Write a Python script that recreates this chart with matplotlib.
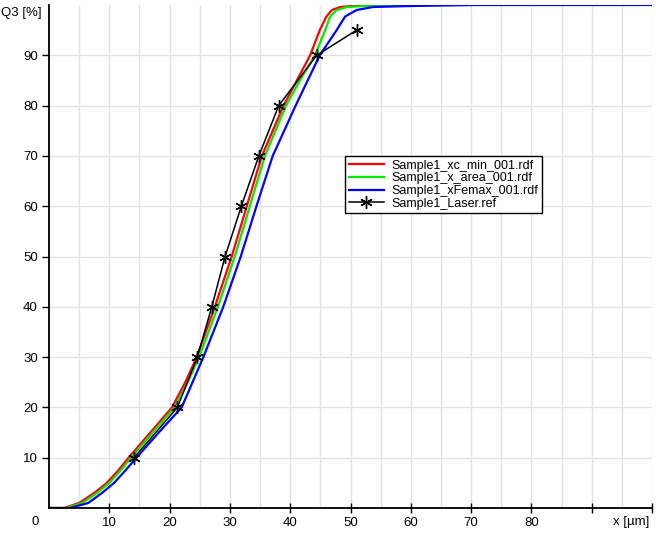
import matplotlib
matplotlib.use('Agg')
from matplotlib import pyplot as plt
from matplotlib.ticker import MultipleLocator

plt.rcParams['font.family'] = ['Liberation Sans', 'DejaVu Sans']

# cumulative distributions Q3 [%] vs x [um]
red_x = [0, 2.5, 5.0, 7.5, 9.6, 11.5, 13.2, 16.8, 20.4, 22.6, 24.5, 27.5, 30.3,
         32.8, 35.3, 38.9, 41.1, 43.3, 44.9, 46.0, 46.9, 48.3, 52.0, 59.4]
red_y = [0, 0, 1, 3, 5, 7.5, 10, 15, 20, 25, 30, 40, 50,
         60, 70, 80, 85, 90, 95, 97.7, 99, 99.6, 100, 100]

green_x = [0, 2.8, 5.5, 8.0, 10.0, 11.9, 13.6, 17.2, 20.8, 23.0, 24.9, 28.0, 30.8,
           33.3, 35.8, 39.3, 41.6, 44.1, 45.8, 46.6, 47.7, 49.4, 55.0, 70.0]
green_y = [0, 0, 1, 3, 5, 7.5, 10, 15, 20, 25, 30, 40, 50,
           60, 70, 80, 85, 90, 95, 97.7, 99, 99.6, 100, 100]

blue_x = [0, 3.5, 6.5, 8.8, 10.8, 12.7, 14.5, 18.2, 22.0, 23.8, 25.6, 28.9, 31.8,
          34.4, 37.1, 40.9, 42.9, 44.9, 47.7, 49.1, 51.0, 53.7, 60.0, 70.0, 100.0]
blue_y = [0, 0, 1, 3, 5, 7.5, 10, 15, 20, 25, 30, 40, 50,
          60, 70, 80, 85, 90, 95, 97.7, 99, 99.6, 99.8, 100, 100]

laser_x = [14.1, 21.3, 24.6, 27.0, 29.2, 31.9, 34.8, 38.1, 44.4, 51.0]
laser_y = [10, 20, 30, 40, 50, 60, 70, 80, 90, 95]

labels = ['Sample1_xc_min_001.rdf', 'Sample1_x_area_001.rdf',
          'Sample1_xFemax_001.rdf', 'Sample1_Laser.ref']

fig = plt.figure(figsize=(6.56, 5.40), dpi=100)
ax = fig.add_axes([49 / 656, 1 - 508 / 540, 603 / 656, 503 / 540])

ax.plot(red_x, red_y, color='#ff0000', lw=1.6, label=labels[0])
ax.plot(green_x, green_y, color='#00e600', lw=1.6, label=labels[1])
ax.plot(blue_x, blue_y, color='#0000ff', lw=1.6, label=labels[2])
ax.plot(laser_x, laser_y, color='black', lw=1.1, marker=(6, 2, 0),
        markersize=9, markeredgewidth=1.0, label=labels[3])

ax.set_xlim(0, 100)
ax.set_ylim(0, 100)
ax.xaxis.set_minor_locator(MultipleLocator(5))
ax.set_xticks(range(10, 101, 10))
ax.set_xticklabels(['10', '20', '30', '40', '50', '60', '70', '80', '', ''])
ax.set_yticks(range(10, 91, 10))
ax.grid(which='both', axis='x', color='#e3e3e3', lw=1)
ax.grid(which='major', axis='y', color='#e3e3e3', lw=1)
ax.set_axisbelow(True)
ax.tick_params(axis='x', which='major', direction='inout', length=7, width=1, pad=3, labelsize=9.5)
ax.tick_params(axis='x', which='minor', length=0)
ax.tick_params(axis='y', direction='out', length=5, width=1, pad=3, labelsize=9.5)

for side in ['top', 'right']:
    ax.spines[side].set_visible(False)
for side in ['left', 'bottom']:
    ax.spines[side].set_linewidth(1.3)

ax.text(-0.023, -0.027, '0', transform=ax.transAxes, ha='center', va='center', fontsize=9.5)
ax.text(0.966, -0.027, 'x [µm]', transform=ax.transAxes, ha='center', va='center', fontsize=9.5)
ax.text(-0.046, 0.984, 'Q3 [%]', transform=ax.transAxes, ha='center', va='center', fontsize=9.5)

leg = ax.legend(loc='upper left', bbox_to_anchor=(0.491, 0.70), fontsize=9,
                frameon=True, fancybox=False, edgecolor='black', framealpha=1,
                borderpad=0.3, labelspacing=0.05, handlelength=2.8, handletextpad=0.6,
                borderaxespad=0)
leg.get_frame().set_linewidth(1.0)

plt.savefig('out.png', dpi=100)
